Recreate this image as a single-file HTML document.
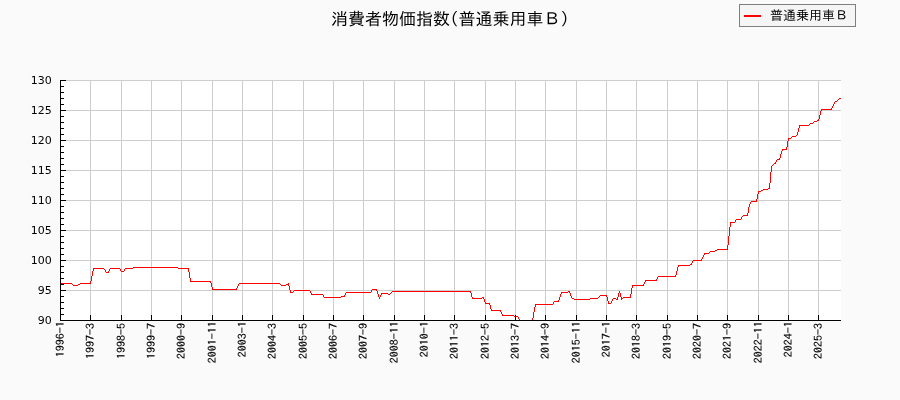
<!DOCTYPE html>
<html lang="ja"><head><meta charset="utf-8"><title>消費者物価指数(普通乗用車Ｂ)</title>
<style>
html,body{margin:0;padding:0;background:#fafafa;}
body{width:900px;height:400px;overflow:hidden;}
svg{display:block;}
.yl{font-family:"DejaVu Sans",sans-serif;font-size:11px;fill:#000;text-anchor:end;}
.xl{font-family:"IPAGothic","Liberation Mono",monospace;font-size:12px;fill:#000;text-anchor:end;stroke:#000;stroke-width:0.12px;}
.ti{font-family:"IPAGothic","Liberation Sans",sans-serif;font-size:17px;fill:#000;text-anchor:middle;}
.lg{font-family:"IPAGothic","Liberation Sans",sans-serif;font-size:13px;fill:#000;}
</style></head>
<body>
<svg width="900" height="400" viewBox="0 0 900 400">
<rect x="0" y="0" width="900" height="400" fill="#fafafa"/>
<rect x="60" y="80" width="781" height="241" fill="#ffffff"/>
<path shape-rendering="crispEdges" fill="#cdcdcd" d="M90 80h1v240h-1zM121 80h1v240h-1zM151 80h1v240h-1zM181 80h1v240h-1zM212 80h1v240h-1zM242 80h1v240h-1zM272 80h1v240h-1zM303 80h1v240h-1zM333 80h1v240h-1zM363 80h1v240h-1zM394 80h1v240h-1zM424 80h1v240h-1zM454 80h1v240h-1zM485 80h1v240h-1zM515 80h1v240h-1zM545 80h1v240h-1zM576 80h1v240h-1zM606 80h1v240h-1zM636 80h1v240h-1zM667 80h1v240h-1zM697 80h1v240h-1zM727 80h1v240h-1zM758 80h1v240h-1zM788 80h1v240h-1zM818 80h1v240h-1zM61 290h780v1h-780zM61 260h780v1h-780zM61 230h780v1h-780zM61 200h780v1h-780zM61 170h780v1h-780zM61 140h780v1h-780zM61 110h780v1h-780zM61 80h780v1h-780z"/>
<path shape-rendering="crispEdges" fill="#ff0000" d="M60 283h12v1h-12zM72 284h1v1h-1zM73 285h5v1h-5zM78 284h2v1h-2zM80 283h10v1h-10zM90 281h1v3h-1zM91 276h1v5h-1zM92 271h1v5h-1zM93 268h1v3h-1zM94 268h10v1h-10zM104 269h1v1h-1zM105 270h1v2h-1zM106 272h2v1h-2zM108 271h1v2h-1zM109 269h1v2h-1zM110 268h10v1h-10zM120 269h1v2h-1zM121 271h3v1h-3zM124 269h1v2h-1zM125 268h8v1h-8zM133 267h45v1h-45zM178 268h10v1h-10zM188 268h1v4h-1zM189 272h1v6h-1zM190 278h1v4h-1zM191 281h19v1h-19zM210 281h1v2h-1zM211 283h1v4h-1zM212 287h1v3h-1zM213 289h23v1h-23zM236 288h1v2h-1zM237 286h1v2h-1zM238 284h1v2h-1zM239 283h41v1h-41zM280 284h1v1h-1zM281 285h5v1h-5zM286 284h2v1h-2zM288 283h1v3h-1zM289 286h1v4h-1zM290 290h1v3h-1zM291 292h2v1h-2zM293 291h1v1h-1zM294 290h16v1h-16zM310 291h1v2h-1zM311 293h1v2h-1zM312 294h11v1h-11zM323 295h1v2h-1zM324 297h17v1h-17zM341 296h3v1h-3zM344 295h1v2h-1zM345 293h1v2h-1zM346 292h25v1h-25zM371 290h1v2h-1zM372 289h4v1h-4zM376 289h1v2h-1zM377 291h1v3h-1zM378 294h1v3h-1zM379 297h1v2h-1zM380 295h1v2h-1zM381 293h1v2h-1zM382 293h6v1h-6zM388 294h2v1h-2zM390 293h1v1h-1zM391 292h1v1h-1zM392 291h78v1h-78zM470 291h1v2h-1zM471 293h1v4h-1zM472 297h1v2h-1zM473 298h9v1h-9zM482 297h1v1h-1zM483 297h1v2h-1zM484 299h1v3h-1zM485 302h1v2h-1zM486 303h3v1h-3zM489 303h1v2h-1zM490 305h1v4h-1zM491 309h1v2h-1zM492 310h8v1h-8zM500 310h1v2h-1zM501 312h1v2h-1zM502 314h1v2h-1zM503 315h11v1h-11zM514 316h4v1h-4zM518 317h1v2h-1zM519 319h1v1h-1zM532 318h1v2h-1zM533 312h1v6h-1zM534 307h1v5h-1zM535 304h1v3h-1zM536 304h17v1h-17zM553 302h1v2h-1zM554 301h4v1h-4zM558 300h1v2h-1zM559 297h1v3h-1zM560 294h1v3h-1zM561 292h1v2h-1zM562 292h6v1h-6zM568 291h1v1h-1zM569 291h1v2h-1zM570 293h1v3h-1zM571 296h1v2h-1zM572 298h2v1h-2zM574 299h16v1h-16zM590 298h8v1h-8zM598 297h1v1h-1zM599 296h1v1h-1zM600 295h6v1h-6zM606 295h1v2h-1zM607 297h1v4h-1zM608 301h1v3h-1zM609 303h2v1h-2zM611 301h1v2h-1zM612 299h1v2h-1zM613 298h3v1h-3zM616 299h1v1h-1zM617 297h1v3h-1zM618 293h1v4h-1zM619 291h1v2h-1zM620 293h1v4h-1zM621 297h1v3h-1zM622 298h1v1h-1zM623 297h7v1h-7zM630 294h1v4h-1zM631 288h1v6h-1zM632 285h1v3h-1zM633 285h10v1h-10zM643 284h1v2h-1zM644 282h1v2h-1zM645 280h1v2h-1zM646 280h10v1h-10zM656 279h1v2h-1zM657 277h1v2h-1zM658 276h17v1h-17zM675 275h1v2h-1zM676 271h1v4h-1zM677 267h1v4h-1zM678 265h1v2h-1zM679 265h11v1h-11zM690 264h1v1h-1zM691 263h1v2h-1zM692 261h1v2h-1zM693 260h8v1h-8zM701 259h1v2h-1zM702 257h1v2h-1zM703 255h1v2h-1zM704 253h1v2h-1zM705 253h4v1h-4zM709 252h1v1h-1zM710 251h5v1h-5zM715 250h2v1h-2zM717 249h10v1h-10zM727 245h1v5h-1zM728 236h1v9h-1zM729 227h1v9h-1zM730 222h1v5h-1zM731 222h4v1h-4zM735 220h1v2h-1zM736 219h5v1h-5zM741 217h1v2h-1zM742 216h1v1h-1zM743 215h4v1h-4zM747 213h1v3h-1zM748 207h1v6h-1zM749 204h1v3h-1zM750 202h1v2h-1zM751 201h5v1h-5zM756 199h1v3h-1zM757 194h1v5h-1zM758 191h1v3h-1zM759 191h2v1h-2zM761 190h2v1h-2zM763 189h5v1h-5zM768 188h1v1h-1zM769 183h1v6h-1zM770 172h1v11h-1zM771 166h1v6h-1zM772 165h1v1h-1zM773 164h1v1h-1zM774 163h1v1h-1zM775 162h1v2h-1zM776 160h1v2h-1zM777 159h2v1h-2zM779 158h1v2h-1zM780 154h1v4h-1zM781 151h1v3h-1zM782 149h1v2h-1zM783 149h3v1h-3zM786 147h1v3h-1zM787 141h1v6h-1zM788 138h1v3h-1zM789 138h2v1h-2zM791 137h1v1h-1zM792 136h4v1h-4zM796 135h1v1h-1zM797 132h1v3h-1zM798 128h1v4h-1zM799 125h1v3h-1zM800 125h9v1h-9zM809 124h1v1h-1zM810 123h3v1h-3zM813 122h1v1h-1zM814 121h3v1h-3zM817 120h1v1h-1zM818 119h1v2h-1zM819 115h1v4h-1zM820 111h1v4h-1zM821 109h1v2h-1zM822 109h9v1h-9zM831 108h1v2h-1zM832 106h1v2h-1zM833 104h1v2h-1zM834 102h1v2h-1zM835 101h2v1h-2zM837 100h1v1h-1zM838 99h1v1h-1zM839 98h2v1h-2z"/>
<path shape-rendering="crispEdges" fill="#000000" d="M60 80h1v241h-1zM60 320h781v1h-781zM60 80h6v1h-6zM60 86h4v1h-4zM60 92h4v1h-4zM60 98h4v1h-4zM60 104h4v1h-4zM60 110h6v1h-6zM60 116h4v1h-4zM60 122h4v1h-4zM60 128h4v1h-4zM60 134h4v1h-4zM60 140h6v1h-6zM60 146h4v1h-4zM60 152h4v1h-4zM60 158h4v1h-4zM60 164h4v1h-4zM60 170h6v1h-6zM60 176h4v1h-4zM60 182h4v1h-4zM60 188h4v1h-4zM60 194h4v1h-4zM60 200h6v1h-6zM60 206h4v1h-4zM60 212h4v1h-4zM60 218h4v1h-4zM60 224h4v1h-4zM60 230h6v1h-6zM60 236h4v1h-4zM60 242h4v1h-4zM60 248h4v1h-4zM60 254h4v1h-4zM60 260h6v1h-6zM60 266h4v1h-4zM60 272h4v1h-4zM60 278h4v1h-4zM60 284h4v1h-4zM60 290h6v1h-6zM60 296h4v1h-4zM60 302h4v1h-4zM60 308h4v1h-4zM60 314h4v1h-4zM60 320h6v1h-6zM60 315h1v6h-1zM90 315h1v6h-1zM121 315h1v6h-1zM151 315h1v6h-1zM181 315h1v6h-1zM212 315h1v6h-1zM242 315h1v6h-1zM272 315h1v6h-1zM303 315h1v6h-1zM333 315h1v6h-1zM363 315h1v6h-1zM394 315h1v6h-1zM424 315h1v6h-1zM454 315h1v6h-1zM485 315h1v6h-1zM515 315h1v6h-1zM545 315h1v6h-1zM576 315h1v6h-1zM606 315h1v6h-1zM636 315h1v6h-1zM667 315h1v6h-1zM697 315h1v6h-1zM727 315h1v6h-1zM758 315h1v6h-1zM788 315h1v6h-1zM818 315h1v6h-1z"/>
<text class="yl" x="51.8" y="324">90</text>
<text class="yl" x="51.8" y="294">95</text>
<text class="yl" x="51.8" y="264">100</text>
<text class="yl" x="51.8" y="234">105</text>
<text class="yl" x="51.8" y="204">110</text>
<text class="yl" x="51.8" y="174">115</text>
<text class="yl" x="51.8" y="144">120</text>
<text class="yl" x="51.8" y="114">125</text>
<text class="yl" x="51.8" y="84">130</text>
<text class="xl" transform="translate(64.2 321.26) rotate(-90) scale(1 0.9)">1996-1</text>
<text class="xl" transform="translate(94.2 323.07) rotate(-90) scale(1 0.9)">1997-3</text>
<text class="xl" transform="translate(125.2 323.06) rotate(-90) scale(1 0.9)">1998-5</text>
<text class="xl" transform="translate(155.2 323.0) rotate(-90) scale(1 0.9)">1999-7</text>
<text class="xl" transform="translate(185.2 323.01) rotate(-90) scale(1 0.9)">2000-9</text>
<text class="xl" transform="translate(216.2 321.26) rotate(-90) scale(1 0.9)">2001-11</text>
<text class="xl" transform="translate(246.2 321.26) rotate(-90) scale(1 0.9)">2003-1</text>
<text class="xl" transform="translate(276.2 323.07) rotate(-90) scale(1 0.9)">2004-3</text>
<text class="xl" transform="translate(307.2 323.06) rotate(-90) scale(1 0.9)">2005-5</text>
<text class="xl" transform="translate(337.2 323.0) rotate(-90) scale(1 0.9)">2006-7</text>
<text class="xl" transform="translate(367.2 323.01) rotate(-90) scale(1 0.9)">2007-9</text>
<text class="xl" transform="translate(398.2 321.26) rotate(-90) scale(1 0.9)">2008-11</text>
<text class="xl" transform="translate(428.2 321.26) rotate(-90) scale(1 0.9)">2010-1</text>
<text class="xl" transform="translate(458.2 323.07) rotate(-90) scale(1 0.9)">2011-3</text>
<text class="xl" transform="translate(489.2 323.06) rotate(-90) scale(1 0.9)">2012-5</text>
<text class="xl" transform="translate(519.2 323.0) rotate(-90) scale(1 0.9)">2013-7</text>
<text class="xl" transform="translate(549.2 323.01) rotate(-90) scale(1 0.9)">2014-9</text>
<text class="xl" transform="translate(580.2 321.26) rotate(-90) scale(1 0.9)">2015-11</text>
<text class="xl" transform="translate(610.2 321.26) rotate(-90) scale(1 0.9)">2017-1</text>
<text class="xl" transform="translate(640.2 323.07) rotate(-90) scale(1 0.9)">2018-3</text>
<text class="xl" transform="translate(671.2 323.06) rotate(-90) scale(1 0.9)">2019-5</text>
<text class="xl" transform="translate(701.2 323.0) rotate(-90) scale(1 0.9)">2020-7</text>
<text class="xl" transform="translate(731.2 323.01) rotate(-90) scale(1 0.9)">2021-9</text>
<text class="xl" transform="translate(762.2 321.26) rotate(-90) scale(1 0.9)">2022-11</text>
<text class="xl" transform="translate(792.2 321.26) rotate(-90) scale(1 0.9)">2024-1</text>
<text class="xl" transform="translate(822.2 323.07) rotate(-90) scale(1 0.9)">2025-3</text>
<text class="ti" x="450" y="25">消費者物価指数(普通乗用車Ｂ)</text>
<rect x="739.5" y="4.5" width="116" height="22" fill="#f5f5f5" stroke="#7f7f7f" stroke-width="1" shape-rendering="crispEdges"/>
<rect x="744" y="15" width="17" height="2" fill="#ff0000" shape-rendering="crispEdges"/>
<text class="lg" x="770" y="19.8">普通乗用車Ｂ</text>
</svg>
</body></html>
